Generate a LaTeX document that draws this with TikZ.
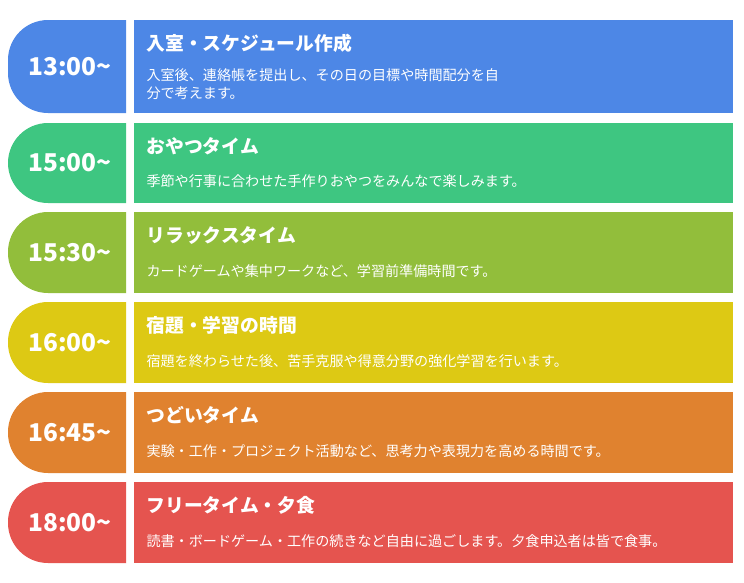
\documentclass[tikz,border=0pt]{standalone}
\usepackage{fontspec}
\setmainfont{Noto Sans CJK JP}
\definecolor{c1}{HTML}{4D87E6}
\definecolor{c2}{HTML}{3EC681}
\definecolor{c3}{HTML}{92BE3B}
\definecolor{c4}{HTML}{DDC914}
\definecolor{c5}{HTML}{E0822F}
\definecolor{c6}{HTML}{E5544F}
\tikzset{x=1pt,y=-1pt,
 timetxt/.style={text=white,font=\bfseries\fontsize{24.5}{28}\selectfont,anchor=center},
 titletxt/.style={text=white,font=\bfseries\fontsize{18.8}{22}\selectfont,anchor=west},
 bodytxt/.style={text=white,font=\fontsize{14.1}{18}\selectfont,anchor=west,align=left}}
\newcommand{\rowitem}[7]{% top bottom color time title body bodycenter
 \fill[#3] (126,#1) -- (48,#1) arc[start angle=270,end angle=180,radius=40] -- (8,{#2-40}) arc[start angle=180,end angle=90,radius=40] -- (126,#2) -- cycle;
 \fill[#3] (134,#1) rectangle (733,#2);
 \node[timetxt] (t#3) at (70,{(#1+#2)/2}) {#4};
 \node[titletxt] (h#3) at (143,{#1+23}) {#5};
 \node[bodytxt] (b#3) at (143,#7) {#6};
}
\begin{document}
\begin{tikzpicture}
\useasboundingbox (0,0) rectangle (744,582);
\rowitem{20}{113}{c1}{13:00\char"007E}{入室・スケジュール作成}{入室後、連絡帳を提出し、その日の目標や時間配分を自\\分で考えます。}{84}
\rowitem{123}{203}{c2}{15:00\char"007E}{おやつタイム}{季節や行事に合わせた手作りおやつをみんなで楽しみます。}{181}
\rowitem{212}{293}{c3}{15:30\char"007E}{リラックスタイム}{カードゲームや集中ワークなど、学習前準備時間です。}{271}
\rowitem{302}{383}{c4}{16:00\char"007E}{宿題・学習の時間}{宿題を終わらせた後、苦手克服や得意分野の強化学習を行います。}{361}
\rowitem{392}{473}{c5}{16:45\char"007E}{つどいタイム}{実験・工作・プロジェクト活動など、思考力や表現力を高める時間です。}{451}
\rowitem{482}{563}{c6}{18:00\char"007E}{フリータイム・夕食}{読書・ボードゲーム・工作の続きなど自由に過ごします。夕食申込者は皆で食事。}{541}
\end{tikzpicture}
\end{document}
